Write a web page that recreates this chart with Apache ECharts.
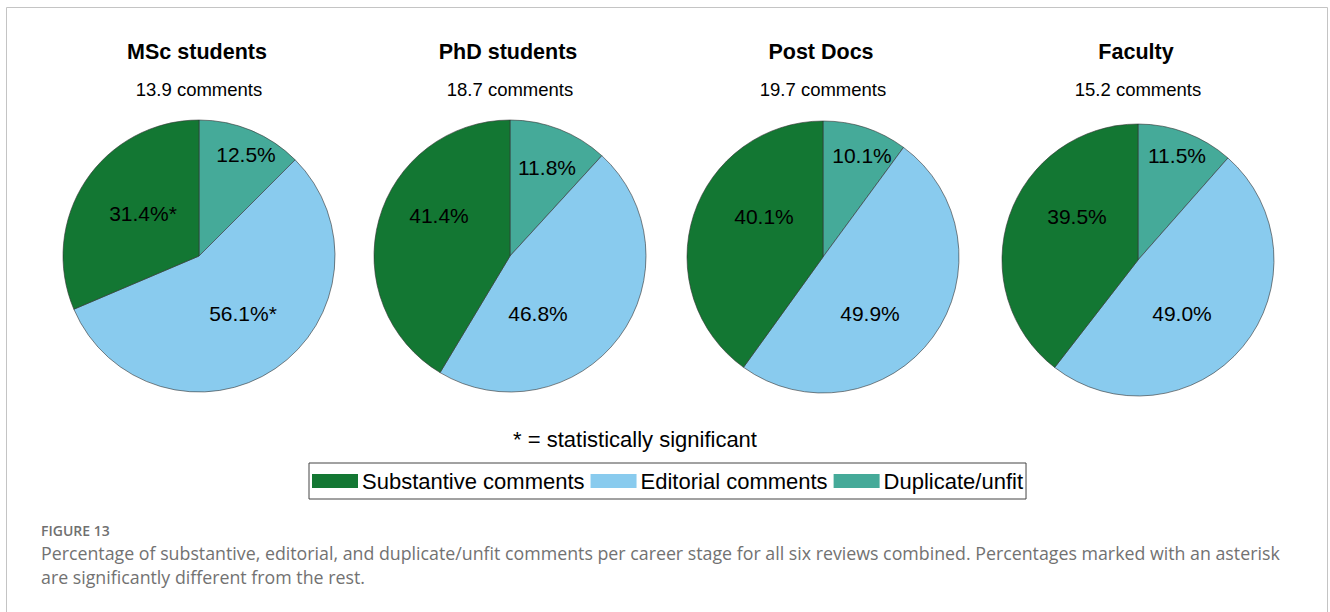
<!DOCTYPE html>
<html>
<head>
<meta charset="utf-8">
<script src="https://cdn.jsdelivr.net/npm/echarts@6/dist/echarts.min.js"></script>
<style>
html,body{margin:0;padding:0;background:#fff;}
#chart{width:1330px;height:612px;}
</style>
</head>
<body>
<div id="chart"></div>
<script>
// ---- data ----
const groups = ['MSc students', 'PhD students', 'Post Docs', 'Faculty'];
const commentCounts = [13.9, 18.7, 19.7, 15.2];
const categories = ['Duplicate/unfit', 'Editorial comments', 'Substantive comments'];
const duplicateValues = [12.5, 11.8, 10.1, 11.5];
const editorialValues = [56.1, 46.8, 49.9, 49.0];
const substantiveValues = [31.4, 41.4, 40.1, 39.5];
// significance flags (duplicate, editorial, substantive) per group
const significant = [
  [false, true, true],
  [false, false, false],
  [false, false, false],
  [false, false, false]
];
const legendOrder = ['Substantive comments', 'Editorial comments', 'Duplicate/unfit'];
const noteText = '* = statistically significant';
const figureLabel = 'FIGURE 13';
const captionLines = [
  'Percentage of substantive, editorial, and duplicate/unfit comments per career stage for all six reviews combined. Percentages marked with an asterisk',
  'are significantly different from the rest.'
];

// ---- style / layout ----
const colors = {'Duplicate/unfit': '#45AA99', 'Editorial comments': '#89CBEE', 'Substantive comments': '#137733'};
const pieCenters = [[199, 256], [510, 256], [823, 257], [1138, 260]];
const pieRadius = 136;
// label offsets from pie centre (duplicate, editorial, substantive)
const labelOffsets = [
  [[47, -102], [44, 57], [-56, -43]],
  [[37, -89], [28, 57], [-71, -41]],
  [[39, -102], [47, 56], [-59, -41]],
  [[39, -105], [44, 53], [-61, -44]]
];
const FONT = '"Liberation Sans", Arial, sans-serif';
const CAPFONT = '"Open Sans", "Noto Sans", sans-serif';

const chart = echarts.init(document.getElementById('chart'), null, {renderer: 'svg'});

const titles = [];
const series = [];
groups.forEach((g, i) => {
  const c = pieCenters[i];
  titles.push({
    text: g, left: c[0] - 2, top: 41, textAlign: 'center', padding: 0,
    textStyle: {fontFamily: FONT, fontSize: 21.5, fontWeight: 'bold', color: '#000'}
  });
  titles.push({
    text: commentCounts[i].toFixed(1) + ' comments', left: c[0], top: 80, textAlign: 'center', padding: 0,
    textStyle: {fontFamily: FONT, fontSize: 18.5, fontWeight: 'normal', color: '#000'}
  });
  const vals = [duplicateValues[i], editorialValues[i], substantiveValues[i]];
  series.push({
    type: 'pie',
    center: c,
    radius: pieRadius,
    startAngle: 90,
    clockwise: true,
    animation: false,
    silent: true,
    data: categories.map((name, k) => ({
      name: name,
      value: vals[k],
      itemStyle: {color: colors[name]},
      label: {formatter: vals[k].toFixed(1) + '%' + (significant[i][k] ? '*' : '')}
    })),
    itemStyle: {borderColor: '#333', borderWidth: 0.6},
    label: {show: true, position: 'inside', fontFamily: FONT, fontSize: 21, color: '#000'},
    labelLine: {show: false},
    emphasis: {disabled: true},
    labelLayout: function (p) {
      const off = labelOffsets[i][p.dataIndex];
      return {x: c[0] + off[0], y: c[1] + off[1], align: 'center', verticalAlign: 'middle'};
    }
  });
});

const option = {
  backgroundColor: '#fff',
  animation: false,
  title: titles,
  legend: {
    data: legendOrder,
    left: 309, top: 463,
    orient: 'horizontal',
    icon: 'rect',
    itemWidth: 46, itemHeight: 14, itemGap: 6,
    padding: [7, 3, 7, 3],
    borderColor: '#444', borderWidth: 1,
    selectedMode: false,
    itemStyle: {borderWidth: 0},
    textStyle: {fontFamily: FONT, fontSize: 22, color: '#000', padding: [0, 0, 0, -1]}
  },
  graphic: [
    {type: 'rect', silent: true, shape: {x: 6.5, y: 7.5, width: 1321, height: 700},
      style: {fill: 'none', stroke: '#c4c4c4', lineWidth: 1}},
    {type: 'text', silent: true, x: 635, y: 439,
      style: {text: noteText, font: '22px ' + FONT, fill: '#000', align: 'center', verticalAlign: 'middle'}},
    {type: 'text', silent: true, x: 41, y: 530,
      style: {text: figureLabel, font: '600 14px ' + CAPFONT, fill: '#707070', align: 'left', verticalAlign: 'middle'}},
    {type: 'text', silent: true, x: 41, y: 553,
      style: {text: captionLines[0], font: '17.8px ' + CAPFONT, fill: '#727272', align: 'left', verticalAlign: 'middle'}},
    {type: 'text', silent: true, x: 41, y: 577,
      style: {text: captionLines[1], font: '17.8px ' + CAPFONT, fill: '#727272', align: 'left', verticalAlign: 'middle'}}
  ],
  series: series
};
chart.setOption(option);
</script>
</body>
</html>
